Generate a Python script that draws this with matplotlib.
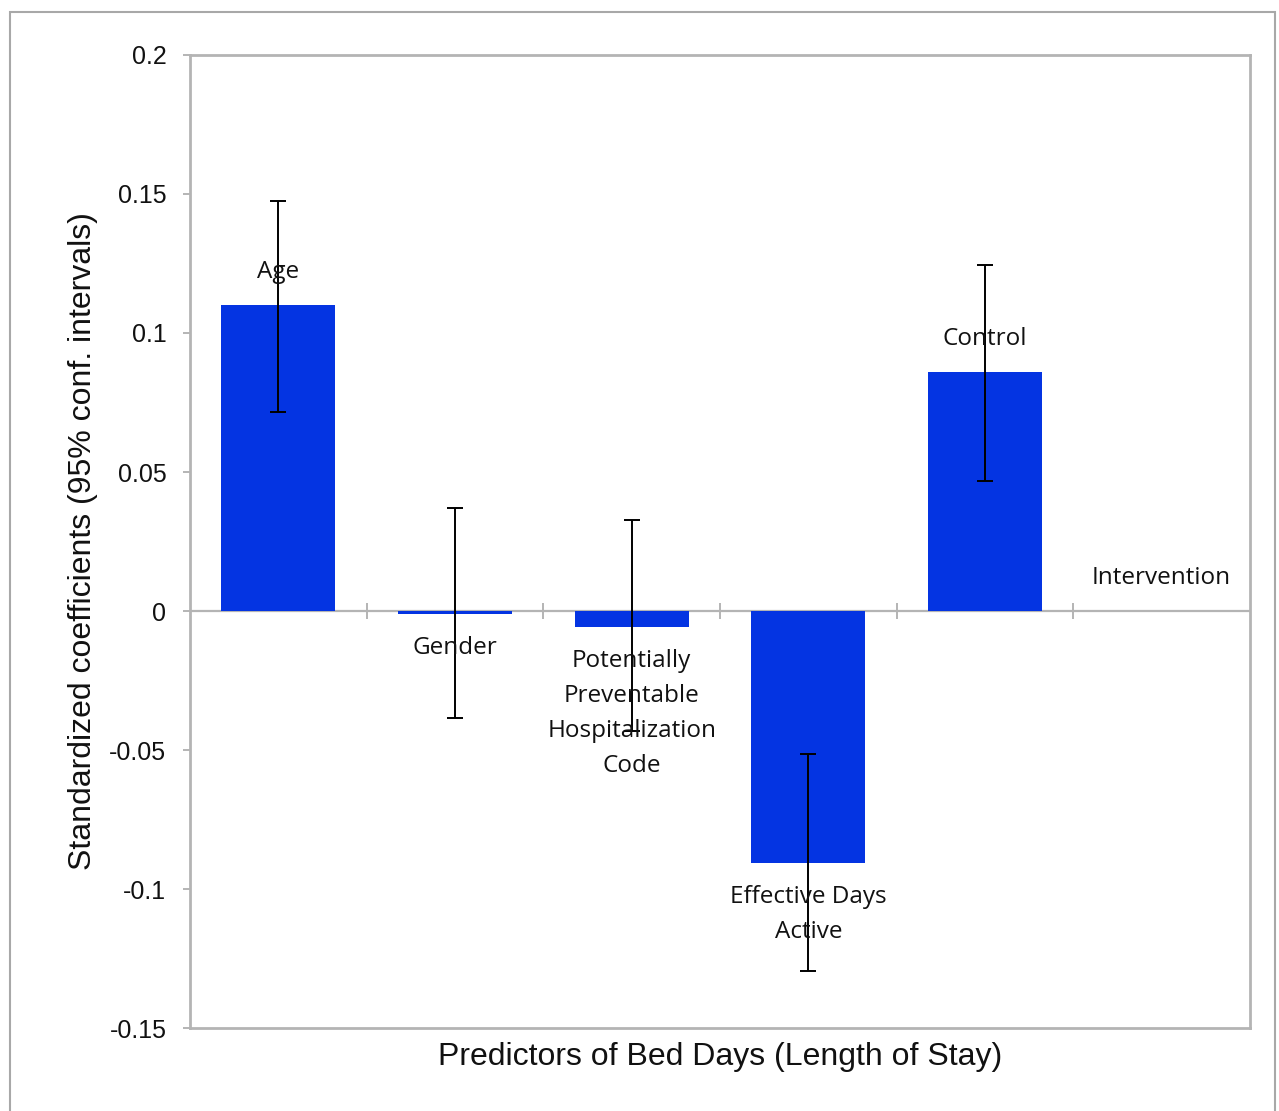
import matplotlib.pyplot as plt
from matplotlib.patches import Rectangle
import numpy as np

# data
categories = ['Age', 'Gender', 'Potentially\nPreventable\nHospitalization\nCode',
              'Effective Days\nActive', 'Control', 'Intervention']
coefs = [0.110, -0.001, -0.0058, -0.0905, 0.086, 0.0]
ci_low = [0.0716, -0.0385, -0.043, -0.1295, 0.0468, None]
ci_high = [0.1475, 0.0370, 0.0327, -0.0515, 0.1245, None]
yticks = [0.2, 0.15, 0.1, 0.05, 0, -0.05, -0.1, -0.15]
ytick_labels = ['0.2', '0.15', '0.1', '0.05', '0', '-0.05', '-0.1', '-0.15']

blue = '#0434e2'
grey = '#b4b4b4'

fig = plt.figure(figsize=(12.79, 11.11), dpi=100)
ax = fig.add_axes([0.1486, 0.0747, 0.8287, 0.8758])

# outer frame around the whole figure
fig.patches.append(Rectangle((10 / 1279, -0.01), 1265 / 1279, 1 - 12 / 1111 + 0.01,
                             transform=fig.transFigure, fill=False,
                             edgecolor='#a8a8a8', linewidth=1.5))

x = np.arange(len(categories))
ax.bar(x, coefs, width=0.645, color=blue, zorder=2)

for i in range(len(categories)):
    if ci_low[i] is None:
        continue
    ax.errorbar(x[i], coefs[i],
                yerr=[[coefs[i] - ci_low[i]], [ci_high[i] - coefs[i]]],
                fmt='none', ecolor='black', elinewidth=1.4, capsize=6,
                capthick=1.4, zorder=4)

# category names as data labels beyond the end of each bar
for i, name in enumerate(categories):
    if coefs[i] >= 0:
        ax.annotate(name, (x[i], coefs[i]), xytext=(0, 24),
                    textcoords='offset points', ha='center', va='center',
                    fontsize=17.5, family='Open Sans', weight='medium',
                    color='#111111', linespacing=1.6, zorder=5)
    else:
        ax.annotate(name, (x[i], coefs[i]), xytext=(0, -16),
                    textcoords='offset points', ha='center', va='top',
                    fontsize=17.5, family='Open Sans', weight='medium',
                    color='#111111', linespacing=1.6, zorder=5)

# zero line with category separators
ax.axhline(0, color=grey, linewidth=1.6, zorder=1)
bounds = x[:-1] + 0.5
ax.vlines(bounds, -0.003, 0.003, color=grey, linewidth=1.4, zorder=1)

ax.set_xlim(-0.5, len(categories) - 0.5)
ax.set_ylim(-0.15, 0.2)
ax.set_xticks([])
ax.set_yticks(yticks)
ax.set_yticklabels(ytick_labels, family='Liberation Sans', fontsize=18,
                   color='#111111')
ax.tick_params(axis='y', length=5, width=1.4, color=grey, pad=12)

for s in ax.spines.values():
    s.set_color(grey)
    s.set_linewidth(2)

ax.set_xlabel('Predictors of Bed Days (Length of Stay)', family='Liberation Sans',
              fontsize=23, labelpad=10, color='#111111')
ax.set_ylabel('Standardized coefficients (95% conf. intervals)', family='Liberation Sans',
              fontsize=23, labelpad=8, color='#111111')

fig.savefig('out.png', dpi=100)
